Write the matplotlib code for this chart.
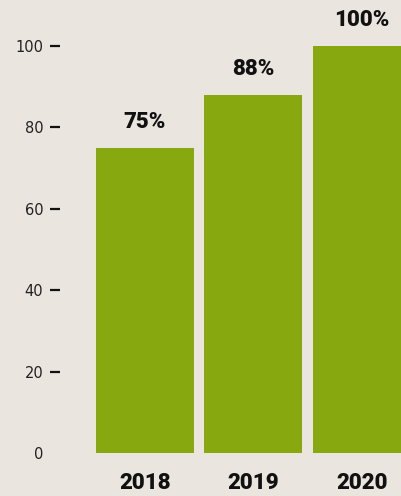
import matplotlib
matplotlib.use("Agg")
import matplotlib.pyplot as plt

# 数据
years = ["2018", "2019", "2020"]
values = [75, 88, 100]
value_labels = ["75%", "88%", "100%"]
y_ticks = [0, 20, 40, 60, 80, 100]

bg = "#ebe5df"
green = "#87a80f"

fig = plt.figure(figsize=(4.01, 4.96), dpi=100, facecolor=bg)
ax = fig.add_axes([60 / 401, 43 / 496, 341 / 401, 453 / 496])
ax.set_facecolor(bg)

x = range(len(years))
bars = ax.bar(x, values, width=0.9, color=green, zorder=2)

for xi, v, lab in zip(x, values, value_labels):
    ax.annotate(lab, (xi, v), xytext=(0, 26), textcoords="offset pixels",
                ha="center", va="center", fontsize=16, fontweight=900,
                family="Roboto", color="#111111")

ax.set_xlim(-0.78, 2.36)
ax.set_ylim(0, 111.3)
ax.set_xticks(list(x))
ax.set_xticklabels(years, fontsize=16, fontweight=900, family="Roboto", color="#111111")
ax.set_yticks(y_ticks)
ax.set_yticklabels([str(t) for t in y_ticks], fontsize=10.5, color="#222222")
ax.tick_params(axis="x", length=0, pad=14)
ax.tick_params(axis="y", length=7, width=1.6, pad=5, color="#111111")
ax.yaxis.get_major_ticks()[0].tick1line.set_visible(False)

for s in ax.spines.values():
    s.set_visible(False)

fig.savefig("out.png", dpi=100, facecolor=bg)
